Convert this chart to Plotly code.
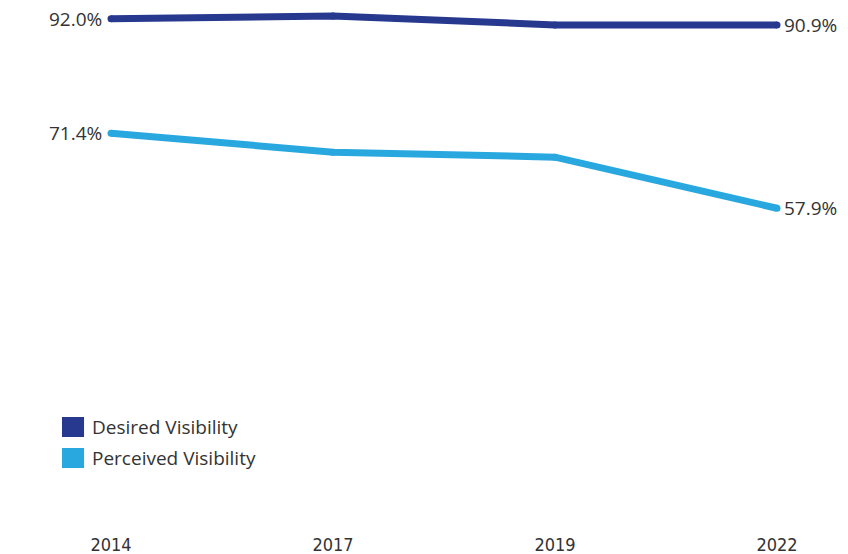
import plotly.graph_objects as go

years = ["2014", "2017", "2019", "2022"]
desired = [92.0, 92.5, 90.9, 90.9]
perceived = [71.4, 68.0, 67.1, 57.9]
series_names = ["Desired Visibility", "Perceived Visibility"]
colors = ["#27398F", "#29A8E0"]

xi = list(range(len(years)))
fig = go.Figure()
label_font = dict(family="Open Sans, sans-serif", size=19, color="#333333")
for name, vals, c in zip(series_names, [desired, perceived], colors):
    fig.add_trace(go.Scatter(x=xi, y=vals, mode="lines+markers", name=name,
                             line=dict(color=c, width=7, shape="linear"),
                             marker=dict(size=7, color=c, line=dict(width=0)),
                             showlegend=False, hoverinfo="skip"))
    fig.add_annotation(x=xi[0], y=vals[0], text=f"{vals[0]:.1f}%", showarrow=False,
                       xanchor="right", xshift=-7, font=label_font)
    fig.add_annotation(x=xi[-1], y=vals[-1], text=f"{vals[-1]:.1f}%", showarrow=False,
                       xanchor="left", xshift=5, font=label_font)

# legend (swatches + labels) in paper coordinates
legend_rows = [(0.2162, 0.1786, 0.1974), (0.1579, 0.1203, 0.1391)]
for (y0, y1, yc), name, c in zip(legend_rows, series_names, colors):
    fig.add_shape(type="rect", xref="paper", yref="paper", x0=0.0731, x1=0.0991,
                  y0=y1, y1=y0, fillcolor=c, line=dict(width=0))
    fig.add_annotation(xref="paper", yref="paper", x=0.1061, y=yc, text=name,
                       showarrow=False, xanchor="left", yanchor="middle", font=label_font)

fig.update_layout(
    width=848, height=554,
    margin=dict(l=0, r=0, t=0, b=22),
    paper_bgcolor="white", plot_bgcolor="white",
    font=dict(family="Open Sans, sans-serif", color="#333333"),
    xaxis=dict(range=[-0.5, 3.3198], tickvals=xi, ticktext=years, showgrid=False,
               zeroline=False, showline=False, ticks="",
               tickfont=dict(family="DejaVu Sans Condensed, Roboto Condensed, sans-serif", size=18, color="#333333")),
    yaxis=dict(range=[-0.37, 95.38], visible=False),
    showlegend=False,
)
fig.write_html("out.html", config={"displayModeBar": False},
               post_script="document.body.style.margin='0';")
